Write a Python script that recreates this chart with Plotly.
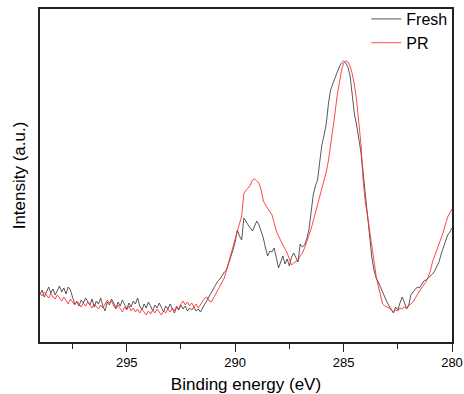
import numpy as np
import plotly.graph_objects as go

# Binding energy grid (eV), 299.0 -> 280.0 in 0.1 eV steps
energy = np.round(np.arange(299.0, 279.95, -0.1), 1)

fresh = [
    48, 52, 45, 50, 55, 49, 53, 47, 51, 56,
    50, 54, 48, 55, 52, 44, 38, 40, 36, 42,
    39, 44, 40, 37, 43, 35, 41, 38, 44, 36,
    31, 40, 37, 43, 39, 34, 40, 36, 42, 37,
    33, 39, 35, 41, 38, 44, 36, 32, 38, 34,
    40, 36, 31, 37, 34, 39, 35, 30, 36, 33,
    38, 34, 29, 35, 32, 37, 33, 36, 31, 34,
    32, 35, 31, 33, 30, 34, 38, 42, 45, 50,
    54, 58, 61, 63, 67, 70, 72, 78, 86, 92,
    100, 112, 106, 102, 124, 120, 117, 114, 111, 116,
    121, 117, 110, 104, 94, 86, 91, 90, 94, 84,
    74, 80, 86, 78, 83, 76, 85, 89, 84, 80,
    98, 95, 97, 103, 112, 130, 147, 156, 162, 180,
    197, 207, 218, 238, 252, 258, 264, 268, 275, 279,
    281, 279, 275, 266, 244, 228, 217, 204, 190, 170,
    148, 125, 103, 85, 72, 64, 60, 55, 49, 45,
    40, 36, 33, 29, 35, 32, 39, 45, 40, 33,
    36, 47, 50, 52, 55, 54, 58, 61, 62, 64,
    65, 68, 71, 75, 80, 88, 95, 101, 107, 110,
    114,
]

pr = [
    48, 46, 50, 47, 44, 49, 45, 43, 47, 44,
    41, 45, 42, 38, 43, 40, 37, 41, 38, 35,
    39, 36, 40, 37, 34, 38, 35, 33, 37, 34,
    38, 42, 39, 41, 36, 33, 37, 34, 30, 35,
    32, 36, 31, 34, 30, 33, 29, 33, 30, 27,
    31, 28, 32, 29, 33, 30, 27, 31, 29, 33,
    30, 34, 31, 36, 33, 38, 41, 37, 40, 36,
    39, 35, 38, 34, 37, 40, 44, 45, 41, 40,
    44, 48, 52, 55, 59, 64, 72, 80, 88, 96,
    104, 112, 119, 126, 148, 152, 154, 157, 162, 163,
    161, 159, 152, 141, 137, 134, 131, 127, 119, 111,
    106, 101, 97, 93, 89, 83, 77, 79, 81, 82,
    86, 89, 94, 100, 106, 113, 121, 129, 137, 145,
    153, 160, 170, 181, 196, 209, 228, 246, 260, 271,
    279, 281, 280, 276, 268, 257, 242, 222, 198, 162,
    140, 127, 112, 95, 77, 66, 56, 47, 38, 36,
    35, 34, 32, 30, 32, 31, 34, 33, 35, 34,
    37, 38, 40, 44, 48, 51, 54, 57, 60, 65,
    71, 80, 86, 91, 96, 103, 110, 118, 125, 129,
    133,
]

x_ticks = [295, 290, 285, 280]
font_family = "Liberation Sans, Arial, sans-serif"

fig = go.Figure()
fig.add_trace(go.Scatter(x=energy, y=fresh, mode="lines", name="Fresh",
                         line=dict(color="rgba(60,60,60,0.85)", width=1)))
fig.add_trace(go.Scatter(x=energy, y=pr, mode="lines", name="PR",
                         line=dict(color="rgba(255,40,40,0.85)", width=1)))

fig.update_layout(
    width=464, height=394,
    margin=dict(l=40, r=12, t=9, b=52, autoexpand=False),
    paper_bgcolor="white", plot_bgcolor="white",
    font=dict(family=font_family, color="#000"),
    showlegend=True,
    legend=dict(x=0.792, xanchor="left", y=1.021, yanchor="top",
                bgcolor="rgba(0,0,0,0)", font=dict(size=16),
                borderwidth=0, tracegroupgap=0),
    xaxis=dict(
        range=[299, 280], autorange=False, automargin=False,
        tickvals=x_ticks, ticktext=[str(t) for t in x_ticks],
        ticks="outside", ticklen=8, tickwidth=1, tickcolor="#222",
        tickfont=dict(size=13),
        minor=dict(ticks="outside", ticklen=5, tickwidth=1, tickcolor="#222",
                   tickvals=[297.5, 292.5, 287.5, 282.5]),
        showline=True, linecolor="#222", linewidth=1.5, mirror=True,
        showgrid=False, zeroline=False,
        title=dict(text="Binding energy (eV)", font=dict(size=17), standoff=12),
    ),
    yaxis=dict(
        range=[0, 333], autorange=False, automargin=False,
        showticklabels=False, ticks="",
        showline=True, linecolor="#222", linewidth=1.5, mirror=True,
        showgrid=False, zeroline=False,
        title=dict(text="Intensity (a.u.)", font=dict(size=17), standoff=8),
    ),
)

fig.write_html("out.html")
